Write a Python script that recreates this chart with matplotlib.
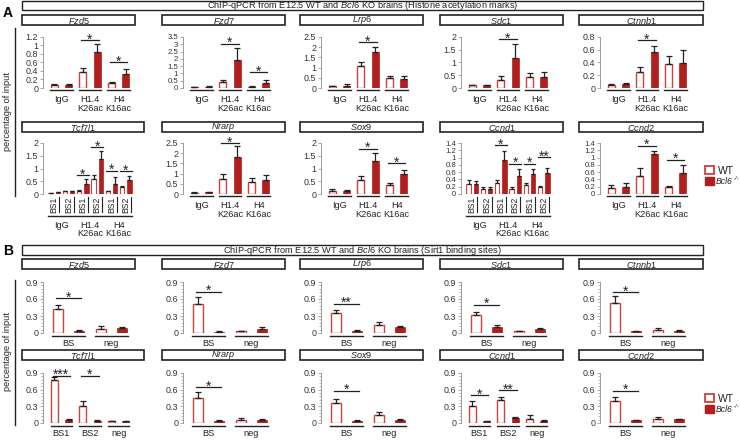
import numpy as np
import matplotlib
matplotlib.use("Agg")
import matplotlib.pyplot as plt
from matplotlib.ticker import AutoMinorLocator
from matplotlib.patches import Rectangle
from matplotlib.transforms import blended_transform_factory

plt.rcParams['font.family'] = ['Liberation Sans', 'DejaVu Sans']
plt.rcParams['mathtext.fontset'] = 'custom'
plt.rcParams['mathtext.rm'] = 'Liberation Sans'
plt.rcParams['mathtext.it'] = 'Liberation Sans:italic'

W, H = 740, 442
WT_EDGE = '#d0403e'
KO_FILL = '#b01e1e'
DARK = '#222222'

# category labels
hist_marks = ["IgG", "H1.4\nK26ac", "H4\nK16ac"]
sites = ["BS1", "BS2"]
sirt_sites = ["BS", "neg"]
sirt_sites3 = ["BS1", "BS2", "neg"]

# values in bar order (WT, Bcl6-/- for each category), errors, significance (first bar, y, mark)
a_fzd5 = [0.08, 0.08, 0.38, 0.85, 0.11, 0.34]
a_fzd5_err = [0.02, 0.02, 0.1, 0.18, 0.04, 0.11]
a_fzd5_sig = [(2, 1.12, "*"), (4, 0.61, "*")]

a_fzd7 = [0.06, 0.08, 0.42, 1.92, 0.1, 0.36]
a_fzd7_err = [0.02, 0.04, 0.12, 0.8, 0.04, 0.22]
a_fzd7_sig = [(2, 3.05, "*"), (4, 1.1, "*")]

a_lrp6 = [0.08, 0.12, 1.1, 1.78, 0.48, 0.45]
a_lrp6_err = [0.03, 0.06, 0.15, 0.22, 0.1, 0.12]
a_lrp6_sig = [(2, 2.24, "*")]

a_sdc1 = [0.1, 0.1, 0.31, 1.17, 0.42, 0.42]
a_sdc1_err = [0.03, 0.03, 0.17, 0.55, 0.15, 0.2]
a_sdc1_sig = [(2, 1.92, "*")]

a_ctnnb1 = [0.05, 0.07, 0.25, 0.57, 0.38, 0.39]
a_ctnnb1_err = [0.01, 0.01, 0.08, 0.09, 0.12, 0.2]
a_ctnnb1_sig = [(2, 0.75, "*")]

a_tcf7l1 = [0.03, 0.06, 0.1, 0.1, 0.12, 0.39, 0.6, 1.37, 0.1, 0.4, 0.28, 0.53]
a_tcf7l1_err = [0.01, 0.02, 0.02, 0.02, 0.03, 0.19, 0.14, 0.33, 0.02, 0.28, 0.05, 0.16]
a_tcf7l1_sig = [(4, 0.75, "*"), (6, 1.85, "*"), (8, 0.92, "*"), (10, 0.9, "*")]

a_nrarp = [0.06, 0.08, 0.73, 1.8, 0.6, 0.68]
a_nrarp_err = [0.02, 0.02, 0.25, 0.53, 0.17, 0.26]
a_nrarp_sig = [(2, 2.5, "*")]

a_sox9 = [0.1, 0.11, 0.54, 1.28, 0.34, 0.77]
a_sox9_err = [0.1, 0.04, 0.17, 0.31, 0.11, 0.19]
a_sox9_sig = [(2, 1.78, "*"), (4, 1.22, "*")]

a_ccnd1 = [0.27, 0.27, 0.14, 0.14, 0.3, 0.94, 0.14, 0.5, 0.24, 0.55, 0.18, 0.58]
a_ccnd1_err = [0.12, 0.08, 0.04, 0.04, 0.09, 0.23, 0.04, 0.19, 0.06, 0.14, 0.05, 0.14]
a_ccnd1_sig = [(4, 1.35, "*"), (6, 0.83, "*"), (8, 0.83, "*"), (10, 1.02, "**")]

a_ccnd2 = [0.16, 0.2, 0.5, 1.1, 0.2, 0.58]
a_ccnd2_err = [0.1, 0.1, 0.21, 0.07, 0.02, 0.21]
a_ccnd2_sig = [(2, 1.33, "*"), (4, 0.94, "*")]

b_fzd5 = [0.42, 0.04, 0.07, 0.08]
b_fzd5_err = [0.08, 0.01, 0.05, 0.02]
b_fzd5_sig = [(0, 0.62, "*")]

b_fzd7 = [0.51, 0.02, 0.03, 0.065]
b_fzd7_err = [0.12, 0.01, 0.01, 0.035]
b_fzd7_sig = [(0, 0.73, "*")]

b_lrp6 = [0.36, 0.04, 0.14, 0.11]
b_lrp6_err = [0.05, 0.01, 0.05, 0.01]
b_lrp6_sig = [(0, 0.52, "**")]

b_sdc1 = [0.32, 0.1, 0.03, 0.07]
b_sdc1_err = [0.05, 0.04, 0.01, 0.01]
b_sdc1_sig = [(0, 0.5, "*")]

b_ctnnb1 = [0.53, 0.03, 0.05, 0.04]
b_ctnnb1_err = [0.13, 0.005, 0.03, 0.01]
b_ctnnb1_sig = [(0, 0.72, "*")]

b_tcf7l1 = [0.78, 0.06, 0.31, 0.04, 0.03, 0.03]
b_tcf7l1_err = [0.05, 0.02, 0.09, 0.01, 0.005, 0.005]
b_tcf7l1_sig = [(0, 0.85, "***"), (2, 0.85, "*")]

b_nrarp = [0.45, 0.04, 0.06, 0.05]
b_nrarp_err = [0.1, 0.01, 0.03, 0.02]
b_nrarp_sig = [(0, 0.64, "*")]

b_sox9 = [0.36, 0.04, 0.14, 0.06]
b_sox9_err = [0.08, 0.01, 0.05, 0.01]
b_sox9_sig = [(0, 0.58, "*")]

b_ccnd1 = [0.31, 0.03, 0.41, 0.09, 0.08, 0.04]
b_ccnd1_err = [0.08, 0.005, 0.05, 0.02, 0.07, 0.01]
b_ccnd1_sig = [(0, 0.5, "*"), (2, 0.59, "**")]

b_ccnd2 = [0.39, 0.05, 0.07, 0.07]
b_ccnd2_err = [0.08, 0.01, 0.04, 0.01]
b_ccnd2_sig = [(0, 0.58, "*")]

# row layout in pixels: (box top, axis top, axis zero)
rows = {"A1": (15, 37, 88), "A2": (122, 143, 194),
        "B1": (259, 282, 333), "B2": (350, 373, 423)}

panels = [
    ("Fzd5", a_fzd5, a_fzd5_err, a_fzd5_sig, 1.2, 0.2, (22, 135), "A1", "hist"),
    ("Fzd7", a_fzd7, a_fzd7_err, a_fzd7_sig, 3.5, 0.5, (162, 285), "A1", "hist"),
    ("Lrp6", a_lrp6, a_lrp6_err, a_lrp6_sig, 2.5, 0.5, (300, 423), "A1", "hist"),
    ("Sdc1", a_sdc1, a_sdc1_err, a_sdc1_sig, 2.0, 0.5, (440, 563), "A1", "hist"),
    ("Ctnnb1", a_ctnnb1, a_ctnnb1_err, a_ctnnb1_sig, 0.8, 0.2, (579, 703), "A1", "hist"),
    ("Tcf7l1", a_tcf7l1, a_tcf7l1_err, a_tcf7l1_sig, 2.0, 0.5, (22, 144), "A2", "sites"),
    ("Nrarp", a_nrarp, a_nrarp_err, a_nrarp_sig, 2.5, 0.5, (162, 285), "A2", "hist"),
    ("Sox9", a_sox9, a_sox9_err, a_sox9_sig, 2.0, 0.5, (300, 423), "A2", "hist"),
    ("Ccnd1", a_ccnd1, a_ccnd1_err, a_ccnd1_sig, 1.4, 0.2, (440, 563), "A2", "sites"),
    ("Ccnd2", a_ccnd2, a_ccnd2_err, a_ccnd2_sig, 1.4, 0.2, (579, 703), "A2", "hist"),
    ("Fzd5", b_fzd5, b_fzd5_err, b_fzd5_sig, 0.9, 0.3, (22, 135), "B1", "sirt"),
    ("Fzd7", b_fzd7, b_fzd7_err, b_fzd7_sig, 0.9, 0.3, (162, 285), "B1", "sirt"),
    ("Lrp6", b_lrp6, b_lrp6_err, b_lrp6_sig, 0.9, 0.3, (300, 423), "B1", "sirt"),
    ("Sdc1", b_sdc1, b_sdc1_err, b_sdc1_sig, 0.9, 0.3, (440, 563), "B1", "sirt"),
    ("Ctnnb1", b_ctnnb1, b_ctnnb1_err, b_ctnnb1_sig, 0.9, 0.3, (579, 703), "B1", "sirt"),
    ("Tcf7l1", b_tcf7l1, b_tcf7l1_err, b_tcf7l1_sig, 0.9, 0.3, (22, 144), "B2", "sirt3"),
    ("Nrarp", b_nrarp, b_nrarp_err, b_nrarp_sig, 0.9, 0.3, (162, 285), "B2", "sirt"),
    ("Sox9", b_sox9, b_sox9_err, b_sox9_sig, 0.9, 0.3, (300, 423), "B2", "sirt"),
    ("Ccnd1", b_ccnd1, b_ccnd1_err, b_ccnd1_sig, 0.9, 0.3, (440, 563), "B2", "sirt3"),
    ("Ccnd2", b_ccnd2, b_ccnd2_err, b_ccnd2_sig, 0.9, 0.3, (579, 703), "B2", "sirt"),
]

fig = plt.figure(figsize=(W / 100, H / 100), dpi=100)

# overlay in pixel coordinates for frames, headers, legend
ov = fig.add_axes([0, 0, 1, 1], zorder=0)
ov.set_xlim(0, W)
ov.set_ylim(H, 0)
ov.axis('off')


def px_axes(x0, y0, w, h):
    return fig.add_axes([x0 / W, 1 - (y0 + h) / H, w / W, h / H], zorder=2)


def header(x0, x1, y0, y1, text, size=6.6, lw=1.2):
    ov.add_patch(Rectangle((x0, y0), x1 - x0, y1 - y0, fc='white', ec=DARK, lw=lw))
    ov.text((x0 + x1) / 2, (y0 + y1) / 2 + 0.5, text, ha='center', va='center',
            fontsize=size, color=DARK)


header(22, 703, 1, 10, "ChIP-qPCR from E12.5 WT and $\\mathit{Bcl6}$ KO brains (Histone acetylation marks)", 6.7, 1.0)
header(22, 703, 245, 255, "ChIP-qPCR from E12.5 WT and $\\mathit{Bcl6}$ KO brains (Sirt1 binding sites)", 6.7, 1.0)
ov.text(3, 13, "A", fontsize=10, fontweight='bold', va='center')
ov.text(3, 251, "B", fontsize=10, fontweight='bold', va='center')

for (ytxt, ya, yb) in [(112, 28, 196), (352, 280, 425)]:
    ov.plot([15, 15], [ya, yb], color=DARK, lw=1.0)
    ov.text(8, ytxt, "percentage of input", rotation=90, ha='center', va='center', fontsize=6.6, color=DARK)

for ytop in (166, 394):
    ov.add_patch(Rectangle((705, ytop), 9, 8, fc='white', ec=WT_EDGE, lw=1.3))
    ov.add_patch(Rectangle((705, ytop + 11), 9, 8, fc=KO_FILL, ec=KO_FILL, lw=1.0))
    ov.text(718, ytop + 4.5, "WT", fontsize=7.5, va='center', color=DARK)
    ov.text(716, ytop + 15.5, "Bcl6", fontsize=6.2, style='italic', va='center', color=DARK)
    ov.text(733.5, ytop + 13, "-/-", fontsize=4.2, style='italic', va='center', color=DARK)

for gene, vals, errs, sig, ymax, step, (bx0, bx1), row, kind in panels:
    btop, atop, zero = rows[row]
    header(bx0, bx1, btop, btop + 9.5, "$\\mathit{" + gene + "}$")

    n = len(vals)
    hpx = zero - atop
    ax = px_axes(bx0 + 21, atop, 90, hpx)
    ax.patch.set_visible(False)
    x = np.arange(n)
    v = np.array(vals)
    e = np.array(errs)
    width = 0.62 if n == 12 else 0.47
    lw_wt = 0.8 if n == 12 else 1.0
    ax.bar(x[0::2], v[0::2], width, facecolor='white', edgecolor=WT_EDGE, linewidth=lw_wt, zorder=2)
    ax.bar(x[1::2], v[1::2], width, facecolor=KO_FILL, edgecolor=KO_FILL, linewidth=0.5, zorder=2)
    ax.errorbar(x, v, yerr=[np.zeros(n), e], fmt='none', ecolor=DARK, elinewidth=0.9,
                capsize=2.2 if n < 12 else 1.6, capthick=0.9, zorder=3)

    ax.set_xlim(-0.5 - 4 * n / 86, n - 0.5)
    ax.set_ylim(0, ymax)
    ticks = np.round(np.arange(0, ymax + step / 2, step), 2)
    ax.set_yticks(ticks)
    ax.set_yticklabels([f"{t:g}" for t in ticks])
    ax.set_xticks([])
    for s in ('top', 'right', 'bottom'):
        ax.spines[s].set_visible(False)
    ax.spines['left'].set_color('#9a9a9a')
    ax.spines['left'].set_linewidth(0.7)
    dense = len(ticks) > 7
    ax.tick_params(axis='y', length=2, width=0.6, color='#9a9a9a',
                   labelsize=5.6 if dense else 6.4, pad=1.5, labelcolor='#333333')
    if kind.startswith('sirt'):
        ax.yaxis.set_minor_locator(AutoMinorLocator(5))
        ax.tick_params(axis='y', which='minor', length=1.5, width=0.5, color='#9a9a9a')

    tr = blended_transform_factory(ax.transData, ax.transAxes)

    def fy(px):
        return -px / hpx

    if kind == 'hist':
        for g, lab in enumerate(hist_marks):
            i = 2 * g
            ax.plot([i - 0.3, i + 1.3], [fy(2), fy(2)], color=DARK, lw=1.0, transform=tr, clip_on=False)
            for k, part in enumerate(lab.split("\n")):
                ax.text(i + 0.5, fy(12 + 8.5 * k), part, ha='center', va='center',
                        fontsize=6.6, color=DARK, transform=tr)
    elif kind == 'sites':
        for g, lab in enumerate(hist_marks):
            i = 4 * g
            for s, site in enumerate(sites):
                j = i + 2 * s
                ax.text(j + 0.5, fy(2.5), site, rotation=90, ha='center', va='top',
                        fontsize=6.2, color=DARK, transform=tr)
                ax.plot([j + 1.2, j + 1.2], [fy(3), fy(18)], color=DARK, lw=0.8,
                        transform=tr, clip_on=False)
            ax.plot([i - 0.4, i + 3.4], [fy(22), fy(22)], color=DARK, lw=1.0, transform=tr, clip_on=False)
            for k, part in enumerate(lab.split("\n")):
                ax.text(i + 1.5, fy(31 + 8.5 * k), part, ha='center', va='center',
                        fontsize=6.6, color=DARK, transform=tr)
    else:
        labels = sirt_sites if kind == 'sirt' else sirt_sites3
        for g, lab in enumerate(labels):
            i = 2 * g
            ax.plot([i - 0.25, i + 1.25], [fy(2.5), fy(2.5)], color=DARK, lw=1.0, transform=tr, clip_on=False)
            ax.text(i + 0.5, fy(10.5), lab, ha='center', va='center', fontsize=6.6,
                    color=DARK, transform=tr)

    pad = 0.3 if n == 12 else 0.1
    for i, ys, mark in sig:
        ax.plot([i - pad, i + 1 + pad], [ys, ys], color=DARK, lw=0.9, clip_on=False)
        ax.annotate(mark, xy=(i + 0.5, ys), xytext=(0, -2.5), textcoords='offset points',
                    ha='center', va='baseline', fontsize=10, color=DARK, annotation_clip=False)

fig.savefig("out.png", dpi=100, facecolor='white')
